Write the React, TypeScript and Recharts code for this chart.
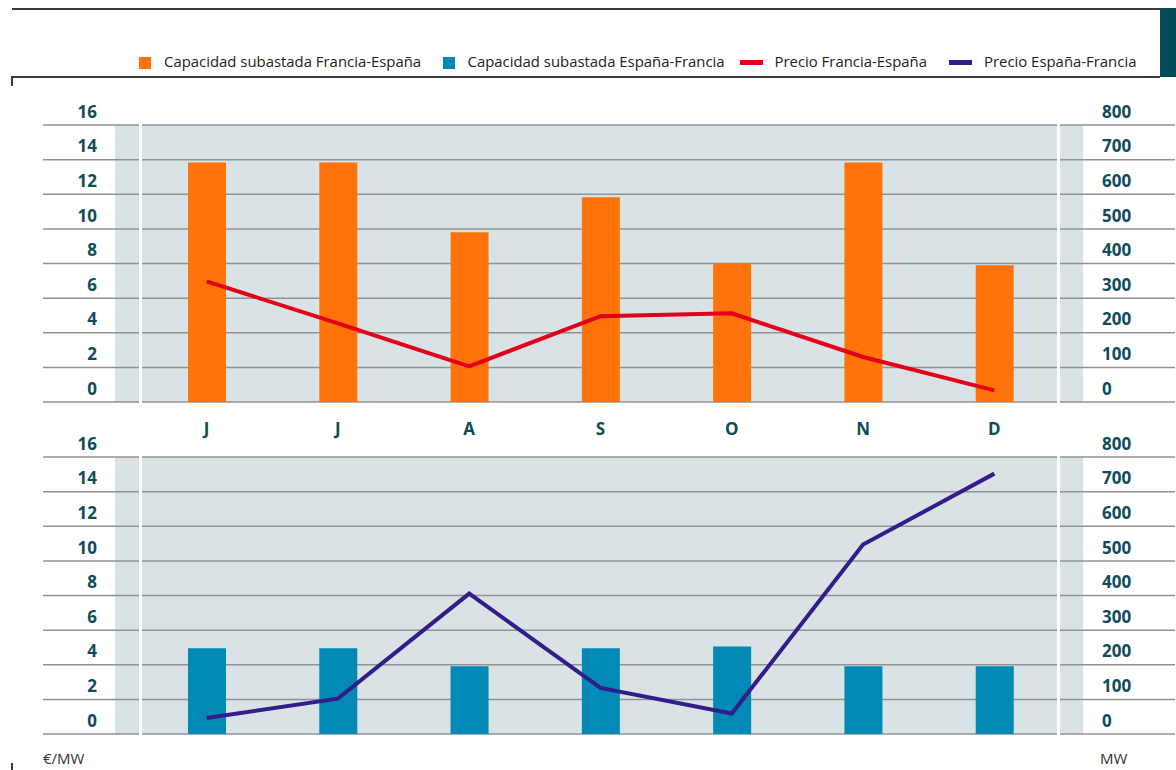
import React from 'react';
import { ComposedChart, Bar, Line, XAxis, YAxis, CartesianGrid } from 'recharts';

const months = ['J', 'J', 'A', 'S', 'O', 'N', 'D'];
const capFranciaEspana = [692, 692, 490, 591, 399, 692, 395];
const precioFranciaEspana = [6.97, 4.54, 2.06, 4.96, 5.12, 2.6, 0.67];
const capEspanaFrancia = [248, 248, 196, 248, 253, 196, 196];
const precioEspanaFrancia = [0.92, 2.04, 8.11, 2.66, 1.18, 10.94, 15.04];
const leftTicks = [0, 2, 4, 6, 8, 10, 12, 14, 16];
const rightTicks = [0, 100, 200, 300, 400, 500, 600, 700, 800];

const topData = months.map((m, i) => ({ m, cap: capFranciaEspana[i], precio: precioFranciaEspana[i] }));
const bottomData = months.map((m, i) => ({ m, cap: capEspanaFrancia[i], precio: precioEspanaFrancia[i] }));

const FONT = '"Open Sans", sans-serif';
const TEAL_TEXT = '#0f4c5a';
const C_ORANGE = '#ff730a';
const C_TEAL = '#0289b6';
const C_RED = '#e2001a';
const C_PURPLE = '#321d8a';
const BG = '#d9e2e5';
const GRID = '#909395';

const LeftTick = (props: any) => (
  <text x={props.x + 54} y={props.y - 7.3} textAnchor="end" fill={TEAL_TEXT}
    fontFamily={FONT} fontWeight={700} fontSize={17}>{props.payload.value}</text>
);
const RightTick = (props: any) => (
  <text x={props.x - 73} y={props.y - 7.3} textAnchor="start" fill={TEAL_TEXT}
    fontFamily={FONT} fontWeight={700} fontSize={17}>{props.payload.value}</text>
);
const MonthTick = (props: any) => (
  <text x={props.x} y={props.y + 33} textAnchor="middle" fill={TEAL_TEXT}
    fontFamily={FONT} fontWeight={700} fontSize={17}>{props.payload.value}</text>
);

const legendItems = [
  { label: 'Capacidad subastada Francia-España', color: C_ORANGE, kind: 'square', x: 139, tx: 164 },
  { label: 'Capacidad subastada España-Francia', color: C_TEAL, kind: 'square', x: 443, tx: 467.5 },
  { label: 'Precio Francia-España', color: C_RED, kind: 'line', x: 740, tx: 774.5 },
  { label: 'Precio España-Francia', color: C_PURPLE, kind: 'line', x: 949, tx: 984 },
];

function Panel({ data, barColor, lineColor, showX }: any) {
  return (
    <ComposedChart width={1176} height={showX ? 440 : 350} data={data}
      margin={showX ? { top: 125, right: 0, bottom: 0, left: 42 } : { top: 37, right: 0, bottom: 36, left: 42 }}>
      <CartesianGrid vertical={false} stroke={GRID} strokeWidth={1.5} yAxisId="left" />
      <XAxis dataKey="m" hide={!showX} height={38} axisLine={false} tickLine={false}
        tickSize={0} tickMargin={0} padding={{ left: 98, right: 115 }} tick={<MonthTick />} interval={0} />
      <YAxis yAxisId="left" orientation="left" width={1} domain={[0, 16]} ticks={leftTicks}
        axisLine={false} tickLine={false} tickSize={0} tickMargin={0} tick={<LeftTick />} interval={0} />
      <YAxis yAxisId="right" orientation="right" width={1} domain={[0, 800]} ticks={rightTicks}
        axisLine={false} tickLine={false} tickSize={0} tickMargin={0} tick={<RightTick />} interval={0} />
      <Bar yAxisId="right" dataKey="cap" fill={barColor} barSize={38} isAnimationActive={false} />
      <Line yAxisId="left" type="linear" dataKey="precio" stroke={lineColor} strokeWidth={4}
        dot={false} activeDot={false} isAnimationActive={false} />
    </ComposedChart>
  );
}

export default function App() {
  return (
    <div style={{ position: 'absolute', left: 0, top: 0, width: 1176, height: 770, background: '#fff', overflow: 'hidden', fontFamily: FONT }}>
      <div style={{ position: 'absolute', left: 12, top: 8, width: 1148, height: 2, background: '#3a3a3a' }} />
      <div style={{ position: 'absolute', left: 1160, top: 8, width: 16, height: 69, background: '#004b57' }} />
      <div style={{ position: 'absolute', left: 12, top: 76, width: 1148, height: 2, background: '#3a3a3a' }} />
      <div style={{ position: 'absolute', left: 11, top: 76, width: 2, height: 10, background: '#3a3a3a' }} />
      <div style={{ position: 'absolute', left: 11, top: 763, width: 2, height: 7, background: '#3a3a3a' }} />

      {legendItems.map((it, i) => (
        <React.Fragment key={i}>
          {it.kind === 'square' ? (
            <div style={{ position: 'absolute', left: it.x, top: 56.5, width: 12, height: 12, background: it.color }} />
          ) : (
            <div style={{ position: 'absolute', left: it.x, top: 60, width: 23, height: 5, background: it.color }} />
          )}
          <div style={{ position: 'absolute', left: it.tx, top: 51, fontSize: 14.9, lineHeight: '20px', color: '#222', whiteSpace: 'nowrap' }}>{it.label}</div>
        </React.Fragment>
      ))}

      <div style={{ position: 'absolute', left: 115, top: 125, width: 968, height: 277, background: BG }} />
      <div style={{ position: 'absolute', left: 115, top: 457, width: 968, height: 277, background: BG }} />

      <div style={{ position: 'absolute', left: 0, top: 0 }}>
        <Panel data={topData} barColor={C_ORANGE} lineColor={C_RED} showX={true} />
      </div>
      <div style={{ position: 'absolute', left: 0, top: 420 }}>
        <Panel data={bottomData} barColor={C_TEAL} lineColor={C_PURPLE} showX={false} />
      </div>

      <div style={{ position: 'absolute', left: 139.3, top: 123, width: 3, height: 281, background: '#fff' }} />
      <div style={{ position: 'absolute', left: 1057.3, top: 123, width: 3, height: 281, background: '#fff' }} />
      <div style={{ position: 'absolute', left: 139.3, top: 455, width: 3, height: 281, background: '#fff' }} />
      <div style={{ position: 'absolute', left: 1057.3, top: 455, width: 3, height: 281, background: '#fff' }} />

      <div style={{ position: 'absolute', left: 43, top: 748, fontSize: 15, lineHeight: '20px', color: '#333' }}>€/MW</div>
      <div style={{ position: 'absolute', left: 1100, top: 748, fontSize: 15, lineHeight: '20px', color: '#333' }}>MW</div>
    </div>
  );
}
